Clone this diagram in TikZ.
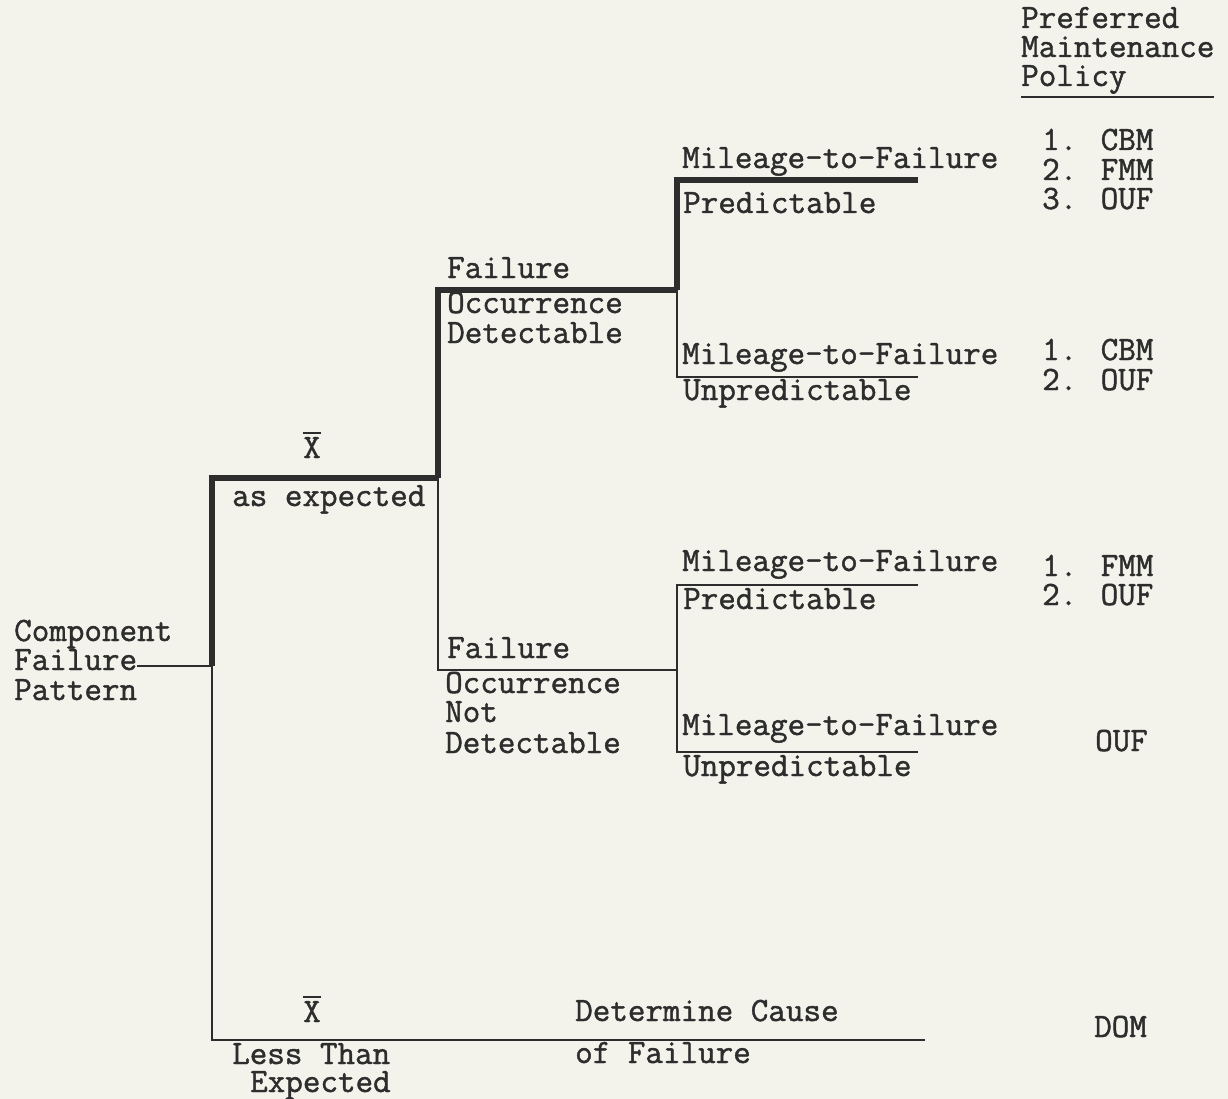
\documentclass[tikz,border=0pt]{standalone}
\usepackage{fontspec}
\newfontfamily\tfont[FakeBold=1.3]{Latin Modern Mono}
\newcommand\tsz{\fontsize{34.1}{30}\selectfont}
\newcommand\xbar{\setbox0\hbox{X}\vbox{\hrule width\wd0 height 1.8pt\kern 3.5pt\box0}}
\definecolor{paper}{RGB}{243,243,236}
\definecolor{ink}{RGB}{45,45,45}
\begin{document}
\begin{tikzpicture}[x=1pt,y=-1pt,
  txt/.style={font=\tfont\tsz, text=ink, inner sep=0pt, anchor=base west},
  ctxt/.style={txt, anchor=base},
  heavy/.style={draw=ink, line width=5.5pt, line join=miter},
  light/.style={draw=ink, line width=2.2pt}]
\fill[paper] (0,0) rectangle (1228,1099);
\useasboundingbox (0,0) rectangle (1228,1099);

% root
\node[txt] (c1) at (14,641) {Component};
\node[txt] (c2) at (14,670) {Failure};
\node[txt] (c3) at (14,700) {Pattern};

% junctions and ends
\coordinate (j0) at (212,666);
\coordinate (j1) at (438,478);
\coordinate (j2) at (677,290);
\coordinate (j3) at (677,670);
\coordinate (e1) at (918,180);
\coordinate (e2) at (918,377);
\coordinate (e3) at (918,585);
\coordinate (e4) at (918,752);
\coordinate (e5) at (925,1040);

% connectors
\draw[light] (c2.east |- j0) -- (j0);
\draw[light] (j0) |- (e5);
\draw[light] (j1) |- (j3);
\draw[light] (j2) |- (e2);
\draw[light] (j3) |- (e3);
\draw[light] (j3) |- (e4);
\draw[heavy] (j0) |- (j1);
\draw[heavy] (j1) |- (j2);
\draw[heavy] (j2) |- (e1);

% branch labels
\node[ctxt] (xb1) at (312,458) {\xbar};
\node[txt] (ae) at (232,506) {as expected};

\node[txt] (fa1) at (447,278) {Failure};
\node[txt] (fo1) at (447,313) {Occurrence};
\node[txt] (fd1) at (447,343) {Detectable};

\node[txt] (fa2) at (447,658) {Failure};
\node[txt] (fo2) at (445,693) {Occurrence};
\node[txt] (fn2) at (445,722) {Not};
\node[txt] (fd2) at (445,753) {Detectable};

\node[txt] (m1) at (682,168) {Mileage-to-Failure};
\node[txt] (p1) at (683,213) {Predictable};
\node[txt] (m2) at (682,364) {Mileage-to-Failure};
\node[txt] (u2) at (683,400) {Unpredictable};
\node[txt] (m3) at (682,571) {Mileage-to-Failure};
\node[txt] (p3) at (683,609) {Predictable};
\node[txt] (m4) at (682,735) {Mileage-to-Failure};
\node[txt] (u4) at (683,776) {Unpredictable};

\node[ctxt] (xb2) at (312,1022) {\xbar};
\node[txt] (lt) at (232,1064) {Less Than};
\node[txt] (ex) at (250,1092) {Expected};
\node[txt] (dc) at (575,1021) {Determine Cause};
\node[txt] (of) at (575,1063) {of Failure};

% policy column
\node[txt] (h1) at (1021,28) {Preferred};
\node[txt] (h2) at (1021,57) {Maintenance};
\node[txt] (h3) at (1021,86) {Policy};
\coordinate (ul1) at (1021,97);
\coordinate (ul2) at (1214,97);
\draw[light] (ul1) -- (ul2);

\node[txt] (pa1) at (1042,150) {1. CBM};
\node[txt] (pa2) at (1042,180) {2. FMM};
\node[txt] (pa3) at (1042,209) {3. OUF};
\node[txt] (pb1) at (1042,360) {1. CBM};
\node[txt] (pb2) at (1042,390) {2. OUF};
\node[txt] (pc1) at (1042,576) {1. FMM};
\node[txt] (pc2) at (1042,605) {2. OUF};
\node[txt] (pd1) at (1095,751) {OUF};
\node[txt] (pe1) at (1094,1037) {DOM};
\end{tikzpicture}
\end{document}
